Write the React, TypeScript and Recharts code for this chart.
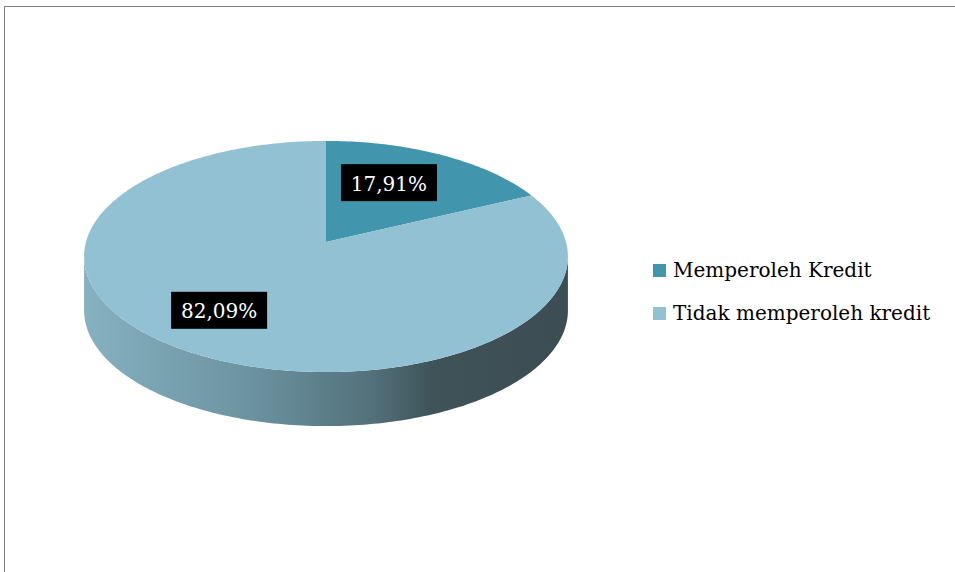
import { PieChart, Pie, Cell, Legend } from "recharts";

const categories = ["Memperoleh Kredit", "Tidak memperoleh kredit"];
const values = [17.91, 82.09];
const valueLabels = ["17,91%", "82,09%"];
const colors = ["#4196ad", "#92c1d3"];

const data = categories.map((name, i) => ({ name, value: values[i] }));

// fake 3D: tilted disc seen in perspective
const P = 0.1256; // back of the disc is smaller than the front
const FLAT = 0.474; // ry / rx
const DEPTH = 0.225; // side height / rx
const EDGE = (Math.asin(P) * 180) / Math.PI;
const FONT = "'DejaVu Serif', serif";

function proj(cx: number, cy: number, r: number, f: number, deg: number) {
  const a = (deg * Math.PI) / 180;
  const u = Math.cos(a) * f;
  const v = Math.sin(a) * f;
  const s = 1 / (1 + P * v);
  return [cx + r * u * s, cy - r * FLAT * v * s];
}

function arcPts(cx: number, cy: number, r: number, from: number, to: number, dy = 0) {
  const n = Math.max(2, Math.ceil(Math.abs(to - from)));
  const pts: string[] = [];
  for (let i = 0; i <= n; i++) {
    const [x, y] = proj(cx, cy, r, 1, from + ((to - from) * i) / n);
    pts.push(`${x.toFixed(2)},${(y + dy).toFixed(2)}`);
  }
  return pts;
}

function Slice3D(props: any) {
  const { cx, cy, outerRadius: r, startAngle, endAngle, fill, index } = props;
  const hi = Math.max(startAngle, endAngle);
  const lo = Math.min(startAngle, endAngle);
  const walls: string[] = [];
  for (const k of [-360, 0, 360]) {
    const a = Math.max(lo, -180 + EDGE + k);
    const b = Math.min(hi, -EDGE + k);
    if (a < b) {
      const top = arcPts(cx, cy, r, b, a);
      const bot = arcPts(cx, cy, r, a, b, r * DEPTH);
      walls.push(`M${top.join(" L")} L${bot.join(" L")} Z`);
    }
  }
  const face = `M${cx},${cy} L${arcPts(cx, cy, r, startAngle, endAngle).join(" L")} Z`;
  const gid = `side-${index}`;
  return (
    <g>
      <defs>
        <linearGradient id={gid} gradientUnits="userSpaceOnUse" x1={cx - r} y1={0} x2={cx + r} y2={0}>
          <stop offset="0" stopColor="#86b1c1" />
          <stop offset="0.35" stopColor="#6b929f" />
          <stop offset="0.6" stopColor="#52707a" />
          <stop offset="0.72" stopColor="#3f5359" />
          <stop offset="1" stopColor="#3c4d53" />
        </linearGradient>
      </defs>
      {walls.map((d, i) => (
        <path key={i} d={d} fill={`url(#${gid})`} />
      ))}
      <path d={face} fill={fill} />
    </g>
  );
}

function renderLabel(props: any) {
  const { cx, cy, outerRadius: r, midAngle, index } = props;
  const [px, y] = proj(cx, cy, r, 0.66, midAngle);
  const x = px - 16;
  return (
    <g>
      <rect x={x - 48} y={y - 18.5} width={96} height={37} fill="#000" />
      <text x={x} y={y + 1} fill="#fff" textAnchor="middle" dominantBaseline="central" fontSize={20} fontFamily={FONT}>
        {valueLabels[index]}
      </text>
    </g>
  );
}

function renderLegend({ payload }: any) {
  return (
    <div style={{ fontFamily: FONT, fontSize: 20, color: "#000" }}>
      {(payload || []).map((entry: any, i: number) => (
        <div key={i} style={{ display: "flex", alignItems: "center", height: 26, marginBottom: 17 }}>
          <span style={{ width: 13, height: 13, background: colors[i], marginRight: 7, display: "inline-block" }} />
          <span style={{ whiteSpace: "nowrap" }}>{entry.value}</span>
        </div>
      ))}
    </div>
  );
}

export default function App() {
  return (
    <div style={{ position: "relative", width: 955, height: 572, background: "#fff", overflow: "hidden" }}>
      <style>{`body{margin:0}`}</style>
      <div
        style={{
          position: "absolute", left: 4, top: 6, width: 980, height: 600,
          borderTop: "1px solid #808080", borderLeft: "1px solid #808080",
        }}
      />
      <div style={{ position: "absolute", left: 0, top: 0 }}>
        <PieChart width={955} height={572} margin={{ top: 0, right: 0, bottom: 0, left: 0 }}>
          <Pie
            data={data}
            dataKey="value"
            nameKey="name"
            cx={326}
            cy={242}
            outerRadius={240}
            startAngle={90}
            endAngle={-270}
            stroke="none"
            shape={Slice3D}
            label={renderLabel}
            labelLine={false}
            isAnimationActive={false}
          >
            {data.map((d, i) => (
              <Cell key={d.name} fill={colors[i]} />
            ))}
          </Pie>
          <Legend
            layout="vertical"
            content={renderLegend}
            wrapperStyle={{ position: "absolute", left: 653, top: 257, width: 300 }}
          />
        </PieChart>
      </div>
    </div>
  );
}
